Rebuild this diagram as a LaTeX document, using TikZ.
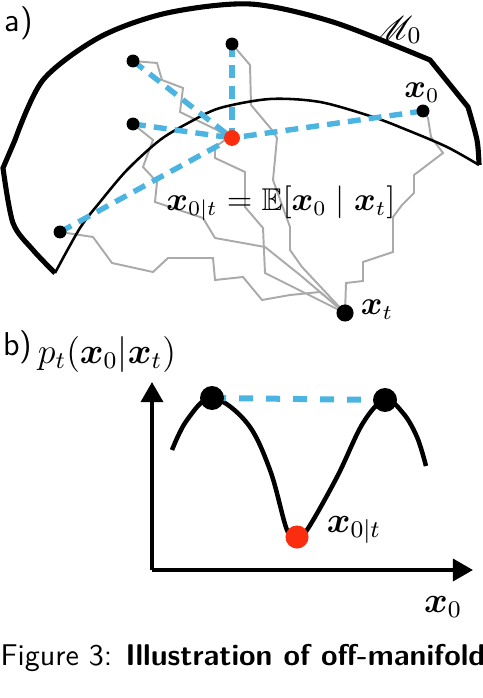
\documentclass[tikz,border=0pt]{standalone}
\usepackage{amsmath}
\usepackage{amssymb}
\usepackage{mathrsfs}
\usepackage{bm}
\usepackage{xcolor}
\usetikzlibrary{arrows.meta}

\definecolor{projblue}{RGB}{75,180,225}
\definecolor{meanred}{RGB}{250,45,15}
\definecolor{walkgray}{RGB}{170,170,170}

\begin{document}
\begin{tikzpicture}[
            x=0.3333pt, y=-0.3333pt,
            man_outer/.style={line width=1.7pt, line join=miter},
            man_inner/.style={line width=0.85pt},
            walk_line/.style={line width=0.65pt, walkgray, line join=miter},
            proj_dash/.style={line width=1.8pt, projblue, dash pattern=on 4.3pt off 2.7pt},
            gap_dash/.style={line width=2pt, projblue, dash pattern=on 4.7pt off 4.3pt},
            data_pt/.style={circle, fill=black, inner sep=0pt, minimum size=4.3pt},
            mean_pt/.style={circle, fill=meanred, inner sep=0pt, minimum size=5.3pt},
            noise_pt/.style={circle, fill=black, inner sep=0pt, minimum size=5.7pt},
            mode_pt/.style={circle, fill=black, inner sep=0pt, minimum size=8pt},
            min_pt/.style={circle, fill=meanred, inner sep=0pt, minimum size=7.7pt},
            axis_line/.style={line width=1.35pt, -{Triangle[width=7.3pt, length=6.7pt]}},
            density/.style={line width=1.5pt},
            panel_lbl/.style={font=\fontsize{11}{13}\sffamily, inner sep=0pt},
            math_lbl/.style={font=\fontsize{10.5}{12}\selectfont, inner sep=0pt},
            big_lbl/.style={font=\fontsize{11.5}{14}\selectfont, inner sep=0pt}
        ]
        \useasboundingbox (0,0) rectangle (482,698);

        % Define coordinates for samples on the manifold
        \coordinate (P1) at (133,61);
        \coordinate (P2) at (232,44);
        \coordinate (P3) at (133,124);
        \coordinate (P4) at (60,232);
        \coordinate (P5) at (423,111);
        \coordinate (C) at (232,138);
        \coordinate (Xt) at (345,313);

        % Reverse walks from x_t to each sample
        \draw[walk_line] (Xt) -- (346,283) -- (363,281) -- (363,262) -- (393,252) -- (393,217)
            -- (402,205) -- (414,193) -- (414,175) -- (443,153) -- (431,137) -- (428,118) -- (P5);
        \draw[walk_line] (Xt) -- (302,267) -- (290,250) -- (290,227) -- (273,180) -- (277,138)
            -- (272,130) -- (251,105) -- (250,65) -- (P2);
        \draw[walk_line] (Xt) -- (265,273) -- (263,228) -- (245,207) -- (245,172) -- (215,158)
            -- (215,147) -- (228,138) -- (217,130) -- (180,112) -- (183,88) -- (162,80) -- (157,63) -- (P1);
        \draw[walk_line] (Xt) -- (300,275) -- (265,247) -- (215,238) -- (203,218) -- (155,202)
            -- (157,182) -- (143,167) -- (153,140) -- (P3);
        \draw[walk_line] (Xt) -- (320,292) -- (290,295) -- (262,300) -- (243,277) -- (215,280)
            -- (213,258) -- (168,258) -- (153,272) -- (112,263) -- (93,237) -- (P4);

        % Manifold M_0 (crescent)
        \draw[man_outer] plot[smooth] coordinates {(55,273) (33,250) (13,223) (3,168)}
            -- plot[smooth] coordinates {(15,140) (43,80) (100,37) (167,13) (250,4) (333,22) (430,60)}
            -- plot[smooth] coordinates {(468,107) (477,140) (479,165)};
        \draw[man_inner] plot[smooth] coordinates {(479,165) (447,147) (407,130) (373,117) (320,102)
            (270,99) (220,108) (190,122) (160,140) (127,170) (100,202) (80,228) (55,273)};

        % Projections onto the posterior mean
        \draw[proj_dash] (P1) -- (C);
        \draw[proj_dash] (P2) -- (C);
        \draw[proj_dash] (P3) -- (C);
        \draw[proj_dash] (P4) -- (C);
        \draw[proj_dash] (P5) -- (C);

        % Samples and mean
        \node[data_pt] (p1) at (P1) {};
        \node[data_pt] (p2) at (P2) {};
        \node[data_pt] (p3) at (P3) {};
        \node[data_pt] (p4) at (P4) {};
        \node[data_pt] (p5) at (P5) {};
        \node[mean_pt] (c) at (C) {};
        \node[noise_pt] (xt) at (Xt) {};

        % Labels of panel a
        \node[panel_lbl] (lbl_a) at (19,23) {a)};
        \node[font=\fontsize{11}{13}\selectfont, inner sep=0pt] (lbl_m) at (397,30) {$\mathscr{M}_0$};
        \node[math_lbl] (lbl_x0) at (422,93) {$\boldsymbol{x}_0$};
        \node[math_lbl] (lbl_eq) at (281,203) {$\boldsymbol{x}_{0|t} = \mathbb{E}[\boldsymbol{x}_0 \mid \boldsymbol{x}_t]$};
        \node[math_lbl] (lbl_xt) at (377,310) {$\boldsymbol{x}_t$};

        % Panel b: density along x_0
        \coordinate (O) at (152,570);
        \coordinate (Ytip) at (152,382);
        \coordinate (Xtip) at (473,570);
        \draw[axis_line] (O) -- (Ytip);
        \draw[axis_line] (O) -- (Xtip);

        \draw[density] plot[smooth, tension=0.6] coordinates {(172,450) (187,420) (212,398) (247,423)
            (270,470) (287,530) (297,537) (307,530) (337,477) (363,423) (385,400) (403,413) (417,437) (426,466)};

        \coordinate (Q1) at (212,398);
        \coordinate (Q2) at (385,400);
        \coordinate (Qm) at (297,537);
        \draw[gap_dash] (Q1) -- (Q2);
        \node[mode_pt] (q1) at (Q1) {};
        \node[mode_pt] (q2) at (Q2) {};
        \node[min_pt] (qm) at (Qm) {};

        % Labels of panel b
        \node[panel_lbl] (lbl_b) at (18,347) {b)};
        \node[big_lbl] (lbl_p) at (107,354) {$p_t(\boldsymbol{x}_0|\boldsymbol{x}_t)$};
        \node[big_lbl] (lbl_mean) at (354,530) {$\boldsymbol{x}_{0|t}$};
        \node[big_lbl] (lbl_axis) at (443,607) {$\boldsymbol{x}_0$};

        % Caption
        \node[anchor=base west, inner sep=0pt, font=\fontsize{10}{12}\sffamily] (caption) at (0,665)
            {Figure 3: \textbf{Illustration of off-manifold}};
    \end{tikzpicture}
\end{document}
